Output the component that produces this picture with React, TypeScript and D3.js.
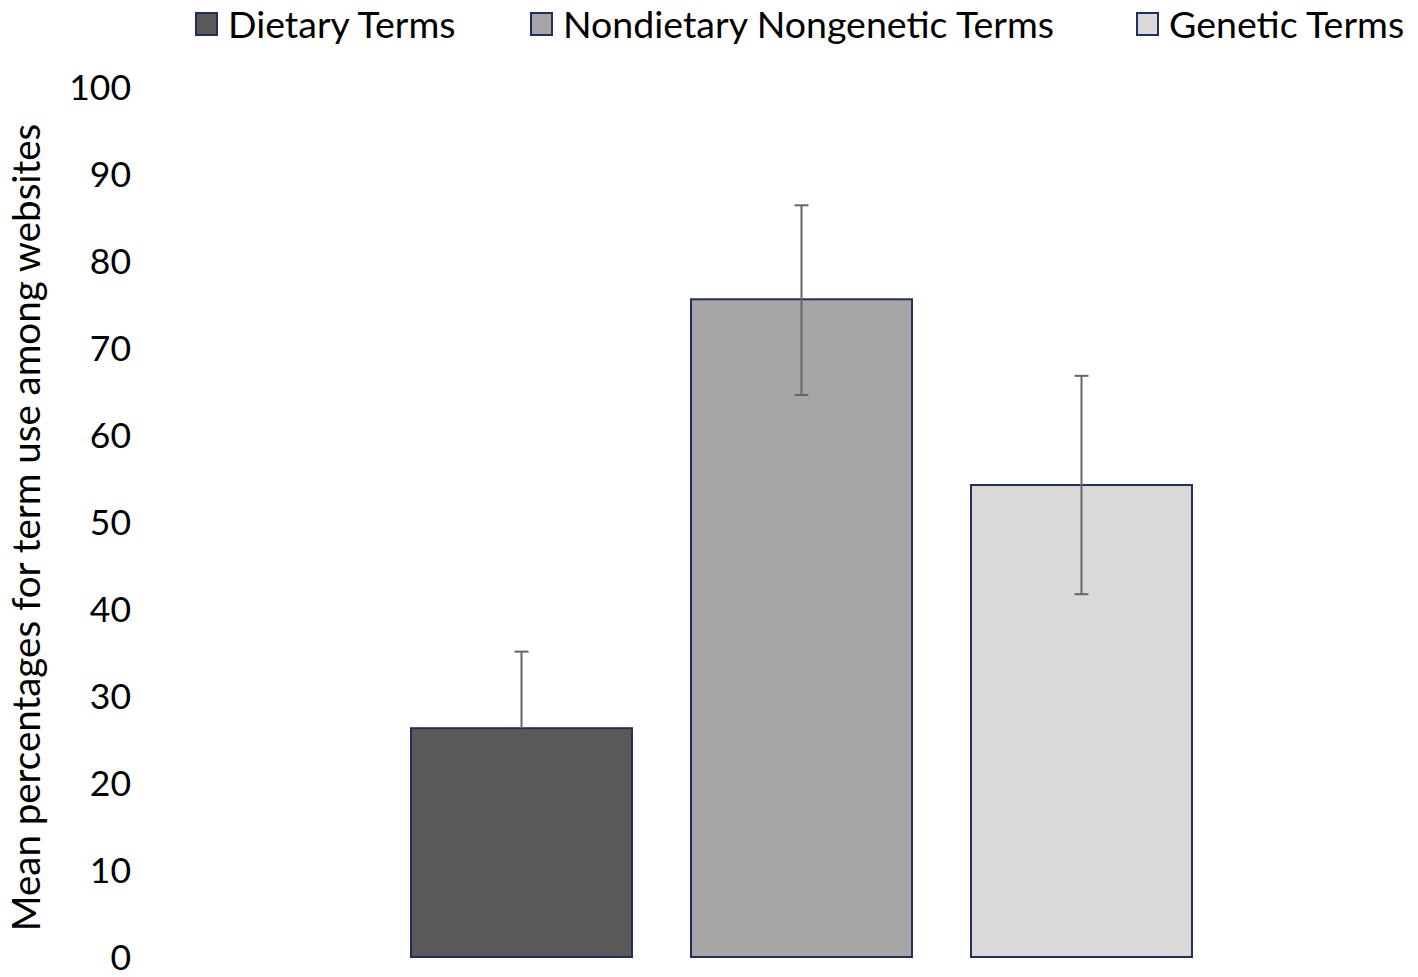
import { useEffect, useRef } from 'react';
import * as d3 from 'd3';

const categories = ['Dietary Terms', 'Nondietary Nongenetic Terms', 'Genetic Terms'];
const means = [26.3, 75.6, 54.25];
const errUpper = [35.1, 86.4, 66.8];
const errLower = [26.3, 64.6, 41.7];
const fills = ['#595959', '#a6a6a6', '#d9d9d9'];
const yTicks = [0, 10, 20, 30, 40, 50, 60, 70, 80, 90, 100];
const yTitle = 'Mean percentages for term use among websites';

export default function App() {
    const svgRef = useRef<SVGSVGElement>(null);

    useEffect(() => {
        if (!svgRef.current) return;
        document.body.style.margin = '0';

        const W = 1418, H = 977;
        const font = 'Lato, "Open Sans", sans-serif';

        const svg = d3.select(svgRef.current);
        svg.selectAll('*').remove();
        svg.attr('width', W).attr('height', H);
        svg.append('rect').attr('width', W).attr('height', H).attr('fill', '#fff');

        const x = d3.scaleBand<string>()
            .domain(categories)
            .range([381.5, 1221.5])
            .paddingInner(0.2107)
            .paddingOuter(0.1054);
        const y = d3.scaleLinear().domain([0, 100]).range([957, 87]);

        // y tick labels
        svg.append('g').selectAll('text')
            .data(yTicks)
            .join('text')
            .attr('x', 131)
            .attr('y', d => y(d))
            .attr('dy', '0.36em')
            .attr('text-anchor', 'end')
            .attr('font-family', font)
            .attr('font-size', 35.5)
            .attr('fill', '#000')
            .text(d => d);

        // y axis title
        svg.append('text')
            .attr('transform', `translate(40,${(125 + 930) / 2}) rotate(-90)`)
            .attr('text-anchor', 'middle')
            .attr('font-family', font)
            .attr('font-size', 38.5)
            .attr('fill', '#000')
            .text(yTitle);

        // bars
        svg.append('g').selectAll('rect')
            .data(categories)
            .join('rect')
            .attr('x', d => x(d)!)
            .attr('width', x.bandwidth())
            .attr('y', (_, i) => y(means[i]))
            .attr('height', (_, i) => y(0) - y(means[i]))
            .attr('fill', (_, i) => fills[i])
            .attr('stroke', '#1f3060')
            .attr('stroke-width', 2);

        // error bars
        const eg = svg.append('g').attr('stroke', '#666').attr('stroke-width', 2).attr('fill', 'none');
        const cap = 7;
        categories.forEach((c, i) => {
            const cx = x(c)! + x.bandwidth() / 2;
            eg.append('line').attr('x1', cx).attr('x2', cx).attr('y1', y(errUpper[i])).attr('y2', y(errLower[i]));
            eg.append('line').attr('x1', cx - cap).attr('x2', cx + cap).attr('y1', y(errUpper[i])).attr('y2', y(errUpper[i]));
            if (errLower[i] < means[i]) {
                eg.append('line').attr('x1', cx - cap).attr('x2', cx + cap).attr('y1', y(errLower[i])).attr('y2', y(errLower[i]));
            }
        });

        // legend
        const legX = [195, 530, 1136];
        const lg = svg.append('g');
        categories.forEach((c, i) => {
            const g = lg.append('g').attr('transform', `translate(${legX[i]},0)`);
            g.append('rect').attr('x', 1).attr('y', 13).attr('width', 21).attr('height', 22)
                .attr('fill', fills[i]).attr('stroke', '#1f3060').attr('stroke-width', 2);
            g.append('text').attr('x', 33).attr('y', 38)
                .attr('font-family', font).attr('font-size', 37.5).attr('fill', '#000')
                .text(c);
        });
    }, []);

    return <svg ref={svgRef} style={{ display: 'block' }} />;
}
